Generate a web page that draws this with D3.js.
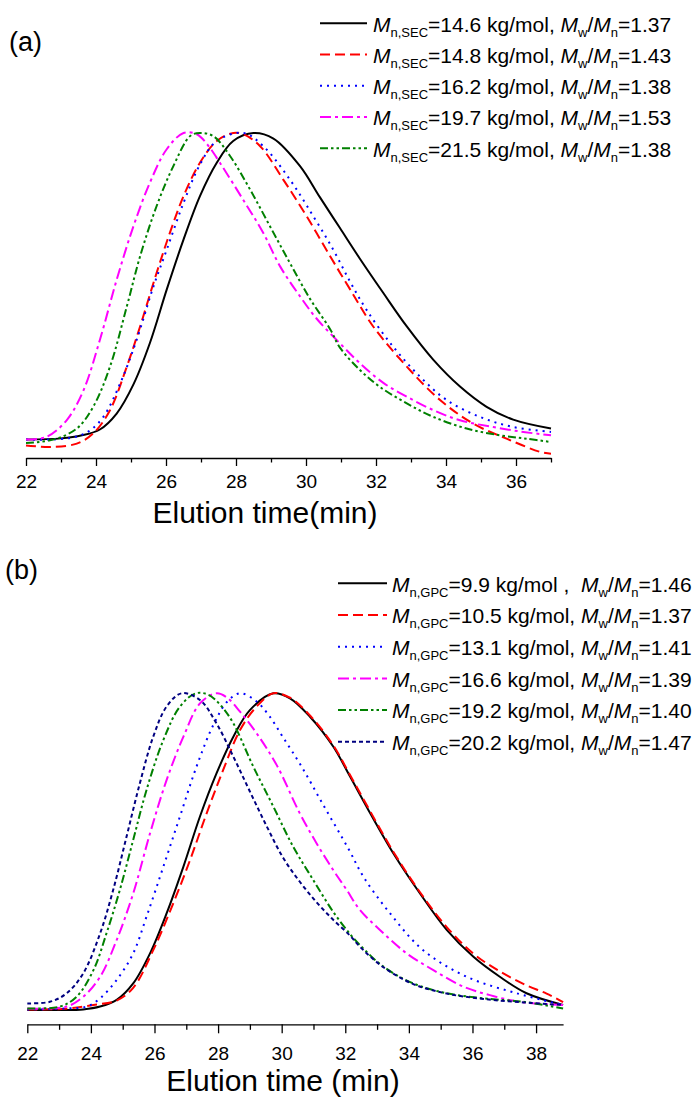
<!DOCTYPE html>
<html>
<head>
<meta charset="utf-8">
<script src="https://cdn.jsdelivr.net/npm/d3@7"></script>
<style>
  body { margin: 0; background: #fff; }
  svg text { font-family: Arial, "Liberation Sans", sans-serif; fill: #000; }
</style>
</head>
<body>
<div id="chart"></div>
<script>
// ---------------------------------------------
// DATA  (elution time in min, normalised intensity)
// ---------------------------------------------
const A_BLACK = [[22,0.0],[23,0.004],[23.6,0.014],[24.11,0.033],[24.59,0.085],[25.07,0.18],[25.54,0.315],[26.02,0.489],[26.5,0.652],[26.97,0.794],[27.45,0.903],[27.92,0.974],[28.5,1.0],[29.07,0.982],[29.83,0.892],[30.4,0.79],[30.97,0.69],[31.54,0.59],[32.21,0.478],[32.88,0.369],[33.64,0.26],[34.4,0.173],[35.16,0.107],[35.92,0.065],[37,0.036]];
const A_RED = [[22,-0.019],[22.7,-0.024],[23.45,-0.013],[23.92,0.02],[24.4,0.096],[24.88,0.238],[25.26,0.369],[25.73,0.543],[26.11,0.674],[26.5,0.794],[26.97,0.903],[27.45,0.974],[27.92,1.0],[28.21,0.996],[28.69,0.957],[29.35,0.848],[30.02,0.728],[30.69,0.598],[31.26,0.49],[31.92,0.369],[32.88,0.238],[33.83,0.129],[34.78,0.052],[35.73,0.003],[36.69,-0.04],[37,-0.046]];
const A_BLUE = [[22,0.0],[23,0.002],[23.5,0.012],[23.83,0.03],[24.21,0.074],[24.69,0.183],[25.16,0.325],[25.64,0.499],[26.02,0.619],[26.5,0.772],[26.97,0.897],[27.45,0.974],[28.21,1.0],[28.78,0.957],[29.54,0.848],[30.21,0.728],[30.78,0.619],[31.26,0.515],[31.73,0.423],[32.49,0.303],[33.26,0.205],[34.02,0.129],[34.97,0.074],[35.92,0.041],[37,0.025]];
const A_MAGENTA = [[22,0.0],[22.59,0.009],[23.16,0.063],[23.64,0.16],[24.11,0.325],[24.59,0.521],[25.07,0.696],[25.54,0.838],[26.02,0.947],[26.5,1.0],[26.88,0.996],[27.2,0.96],[27.54,0.903],[28.26,0.772],[28.78,0.674],[29.26,0.565],[29.83,0.467],[30.3,0.395],[30.97,0.314],[31.54,0.249],[32.21,0.185],[32.88,0.14],[33.64,0.096],[34.4,0.063],[35.35,0.041],[36.21,0.025],[37,0.014]];
const A_GREEN = [[22,-0.011],[22.78,0.0],[23.45,0.036],[23.92,0.107],[24.4,0.238],[24.88,0.434],[25.26,0.598],[25.73,0.761],[26.21,0.892],[26.69,0.99],[26.97,1.0],[27.35,0.99],[27.83,0.925],[28.4,0.816],[28.97,0.696],[29.54,0.576],[30.11,0.46],[30.69,0.36],[30.97,0.3],[31.54,0.227],[32.11,0.172],[32.88,0.118],[33.64,0.074],[34.59,0.036],[35.54,0.014],[36.3,0.003],[37,-0.008]];

const B_BLACK = [[22,0.0],[23,0.0],[23.76,0.002],[24.29,0.011],[24.81,0.032],[25.33,0.084],[25.86,0.179],[26.38,0.305],[26.91,0.453],[27.43,0.611],[27.95,0.747],[28.48,0.863],[29.0,0.947],[29.74,1.0],[30.26,0.984],[30.89,0.926],[31.62,0.832],[32.15,0.737],[32.67,0.642],[33.51,0.495],[34.35,0.368],[35.19,0.253],[36.03,0.168],[36.86,0.105],[37.7,0.053],[38.85,0.016]];
const B_RED = [[22,0.002],[23.2,0.004],[24.08,0.016],[24.81,0.03],[25.33,0.07],[25.96,0.189],[26.59,0.337],[27.12,0.474],[27.64,0.621],[28.16,0.758],[28.69,0.884],[29.21,0.958],[29.74,1.0],[30.26,0.986],[30.89,0.93],[31.62,0.836],[32.15,0.742],[32.67,0.648],[33.51,0.5],[34.35,0.372],[35.19,0.262],[36.03,0.178],[36.86,0.122],[37.7,0.078],[38.33,0.052],[38.85,0.025]];
const B_BLUE = [[22,0.002],[23.24,0.005],[23.87,0.011],[24.29,0.037],[24.81,0.095],[25.33,0.179],[25.75,0.295],[26.28,0.453],[26.8,0.611],[27.32,0.768],[27.85,0.9],[28.3,0.975],[28.7,1.0],[29.2,0.975],[29.6,0.93],[30.05,0.86],[30.63,0.768],[31.31,0.647],[32.09,0.511],[32.57,0.421],[33.41,0.305],[34.45,0.189],[35.82,0.105],[37.39,0.053],[38.85,0.016]];
const B_MAGENTA = [[22,0.005],[23.24,0.011],[23.76,0.042],[24.29,0.105],[24.81,0.221],[25.33,0.368],[25.86,0.558],[26.38,0.726],[26.91,0.863],[27.43,0.968],[27.95,1.0],[28.3,0.985],[28.69,0.942],[29.21,0.874],[29.84,0.774],[30.57,0.621],[31.1,0.526],[31.62,0.442],[32.04,0.38],[32.46,0.316],[33.09,0.253],[33.93,0.179],[34.77,0.126],[35.71,0.074],[36.55,0.047],[37.49,0.026],[38.85,0.016]];
const B_GREEN = [[22,0.005],[23.03,0.011],[23.55,0.042],[24.08,0.126],[24.49,0.242],[24.91,0.379],[25.33,0.537],[25.75,0.695],[26.28,0.853],[26.8,0.958],[27.3,1.0],[27.7,0.995],[28.1,0.96],[28.48,0.905],[29.11,0.768],[29.74,0.642],[30.36,0.516],[30.99,0.411],[31.62,0.31],[32.15,0.24],[32.46,0.205],[33.2,0.137],[34.14,0.084],[35.19,0.053],[36.34,0.037],[37.6,0.026],[38.85,0.005]];
const B_NAVY = [[22,0.021],[22.71,0.026],[23.24,0.053],[23.76,0.116],[24.29,0.242],[24.7,0.379],[25.12,0.547],[25.54,0.716],[25.96,0.863],[26.38,0.958],[26.85,1.0],[27.43,0.979],[27.95,0.905],[28.48,0.8],[29.0,0.69],[29.53,0.58],[30.05,0.48],[30.57,0.405],[31.1,0.34],[31.62,0.285],[32.15,0.235],[32.46,0.2],[33.2,0.135],[34.14,0.082],[35.19,0.052],[36.34,0.035],[37.6,0.024],[38.85,0.016]];

// legend texts
const A_MN = ["14.6", "14.8", "16.2", "19.7", "21.5"];
const A_UNIT = [" kg/mol, ", " kg/mol, ", " kg/mol, ", " kg/mol, ", " kg/mol, "];
const A_PDI = ["1.37", "1.43", "1.38", "1.53", "1.38"];
const B_MN = ["9.9", "10.5", "13.1", "16.6", "19.2", "20.2"];
const B_UNIT = [" kg/mol ,  ", " kg/mol, ", " kg/mol, ", " kg/mol, ", " kg/mol, ", " kg/mol, "];
const B_PDI = ["1.46", "1.37", "1.41", "1.39", "1.40", "1.47"];

// tick values
const A_MAJOR = [22, 24, 26, 28, 30, 32, 34, 36];
const A_MINOR = [23, 25, 27, 29, 31, 33, 35, 37];
const B_MAJOR = [22, 24, 26, 28, 30, 32, 34, 36, 38];
const B_MINOR = [23, 25, 27, 29, 31, 33, 35, 37];

// ---------------------------------------------
// STYLES
// ---------------------------------------------
const STYLE = {
  black:   { color: "#000000", dash: null },
  red:     { color: "#ff0000", dash: "10,5" },
  blue:    { color: "#0000ff", dash: "2,5" },
  magenta: { color: "#ff00ff", dash: "11,4,3,4" },
  green:   { color: "#008000", dash: "8,3,2.5,3,2.5,3" },
  navy:    { color: "#000080", dash: "4,3" }
};

const WIDTH = 695;
const HEIGHT = 1099;

const SVG = d3.select("#chart").append("svg")
  .attr("width", WIDTH)
  .attr("height", HEIGHT);

const LINE_GEN = (x, y) => d3.line()
  .x(d => x(d[0]))
  .y(d => y(d[1]))
  .curve(d3.curveCatmullRom.alpha(0.5));

// PANEL (a)
drawPanel({
  label: "(a)", labelX: 9, labelY: 51,
  x: d3.scaleLinear().domain([22, 37]).range([26, 551]),
  y: d3.scaleLinear().domain([-0.06, 1]).range([458, 133]),
  series: [[A_BLACK, "black"], [A_RED, "red"], [A_BLUE, "blue"], [A_MAGENTA, "magenta"], [A_GREEN, "green"]],
  major: A_MAJOR, minor: A_MINOR, majorLen: 8, minorLen: 4.5, pad: 9,
  title: "Elution time(min)", titleX: 265, titleY: 523,
  sub: "n,SEC", mn: A_MN, unit: A_UNIT, pdi: A_PDI,
  legX1: 320, legX2: 367, legTextX: 373, legY0: 23.3, legDy: 31.25
});

// PANEL (b)
drawPanel({
  label: "(b)", labelX: 5, labelY: 579,
  x: d3.scaleLinear().domain([22, 38.85]).range([27.3, 563.1]),
  y: d3.scaleLinear().domain([-0.045, 1]).range([1024.3, 693.3]),
  series: [[B_BLACK, "black"], [B_RED, "red"], [B_BLUE, "blue"], [B_MAGENTA, "magenta"], [B_GREEN, "green"], [B_NAVY, "navy"]],
  major: B_MAJOR, minor: B_MINOR, majorLen: 9, minorLen: 5.5, pad: 13.5,
  title: "Elution time (min)", titleX: 283, titleY: 1091,
  sub: "n,GPC", mn: B_MN, unit: B_UNIT, pdi: B_PDI,
  legX1: 338, legX2: 387, legTextX: 392, legY0: 583.3, legDy: 31.7
});

// DRAW PANEL
function drawPanel(p) {
  const g = SVG.append("g");
  const axisY = p.y.range()[0];

  // minor ticks
  g.append("g")
    .attr("transform", `translate(0,${axisY})`)
    .call(d3.axisBottom(p.x).tickValues(p.minor).tickSize(p.minorLen).tickSizeOuter(0).tickFormat(""))
    .call(s => s.select(".domain").remove())
    .call(s => s.selectAll("line").attr("stroke-width", 1.3));

  // major ticks + labels
  g.append("g")
    .attr("transform", `translate(0,${axisY})`)
    .call(d3.axisBottom(p.x).tickValues(p.major).tickSize(p.majorLen).tickSizeOuter(0).tickPadding(p.pad))
    .call(s => s.select(".domain").attr("stroke-width", 1.3))
    .call(s => s.selectAll("line").attr("stroke-width", 1.3))
    .call(s => s.selectAll("text")
      .attr("font-size", 19)
      .attr("font-family", "Arial, 'Liberation Sans', sans-serif"));

  // axis title
  g.append("text")
    .attr("x", p.titleX)
    .attr("y", p.titleY)
    .attr("text-anchor", "middle")
    .attr("font-size", 30)
    .text(p.title);

  // panel label
  g.append("text")
    .attr("x", p.labelX)
    .attr("y", p.labelY)
    .attr("font-size", 27)
    .text(p.label);

  // curves
  const line = LINE_GEN(p.x, p.y);
  g.selectAll("path.curve")
    .data(p.series)
    .enter()
    .append("path")
    .attr("class", "curve")
    .attr("d", d => line(d[0]))
    .attr("fill", "none")
    .attr("stroke", d => STYLE[d[1]].color)
    .attr("stroke-width", 2)
    .attr("stroke-dasharray", d => STYLE[d[1]].dash);

  // legend
  const leg = g.selectAll("g.leg")
    .data(p.series)
    .enter()
    .append("g")
    .attr("class", "leg")
    .attr("transform", (d, i) => `translate(0,${p.legY0 + i * p.legDy})`);

  leg.append("line")
    .attr("x1", p.legX1)
    .attr("x2", p.legX2)
    .attr("stroke", d => STYLE[d[1]].color)
    .attr("stroke-width", 2)
    .attr("stroke-dasharray", d => STYLE[d[1]].dash);

  const txt = leg.append("text")
    .attr("x", p.legTextX)
    .attr("y", 8.3)
    .attr("font-size", 21)
    .style("white-space", "pre");

  txt.each(function(d, i) {
    const t = d3.select(this);
    t.append("tspan").attr("font-style", "italic").text("M");
    t.append("tspan").attr("font-size", 13).attr("dy", 5).text(p.sub);
    t.append("tspan").attr("dy", -5).text("=" + p.mn[i] + p.unit[i]);
    t.append("tspan").attr("font-style", "italic").text("M");
    t.append("tspan").attr("font-size", 13).attr("dy", 5).text("w");
    t.append("tspan").attr("dy", -5).text("/");
    t.append("tspan").attr("font-style", "italic").text("M");
    t.append("tspan").attr("font-size", 13).attr("dy", 5).text("n");
    t.append("tspan").attr("dy", -5).text("=" + p.pdi[i]);
  });
}
</script>
</body>
</html>
